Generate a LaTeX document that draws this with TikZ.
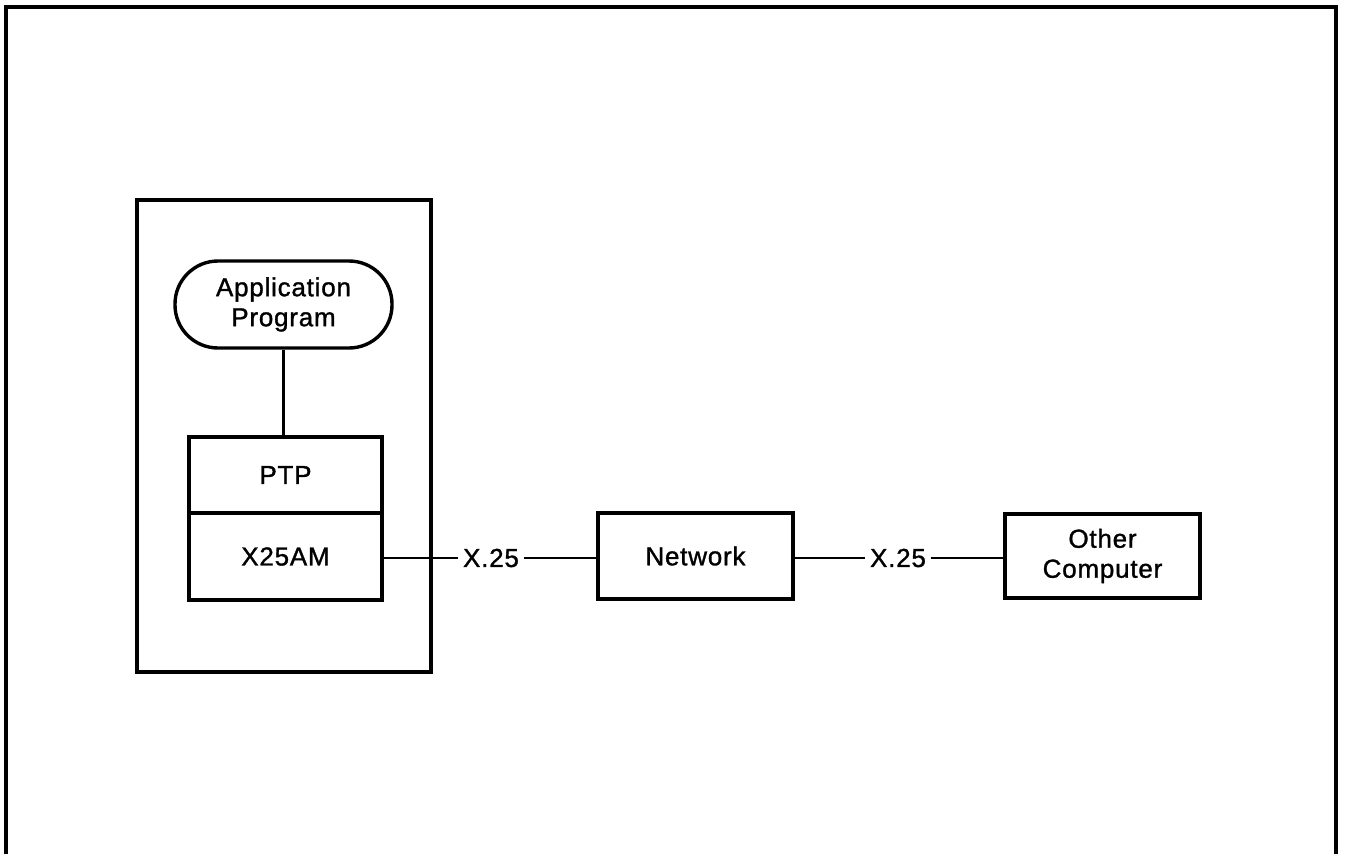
\documentclass[tikz,border=0pt]{standalone}
\usepackage{fontspec}
\setmainfont{Liberation Sans}[LetterSpace=3,FakeBold=1.2]
\begin{document}
\begin{tikzpicture}[x=1pt,y=-1pt,
  box/.style={draw,line width=3.4pt,minimum width=#1,align=center,inner sep=0pt},
  lbl/.style={inner xsep=5pt,inner ysep=0pt,font=\fontsize{26}{30}\selectfont},
  conn/.style={line width=2.4pt},
  every node/.style={font=\fontsize{26}{30}\selectfont}]
\useasboundingbox (0,0) rectangle (1346,854);
% outer frame (open at bottom)
\draw[line width=4.4pt] (6,854) -- (6,7) -- (1336,7) -- (1336,854);
% tall host box
\node[draw,line width=3.6pt,minimum width=294pt,minimum height=472pt,inner sep=0pt] (host) at (284,436) {};
% application program
\node[draw,line width=3.4pt,minimum width=217pt,minimum height=87pt,rounded corners=43pt,align=center,inner sep=0pt] (app) at (283.5,304.5) {Application\\Program};
% PTP / X25AM
\node[box=193pt,minimum height=76pt] (ptp) at (285.5,475) {PTP};
\node[box=193pt,minimum height=87pt] (x25am) at (285.5,556.5) {X25AM};
% network and other computer
\node[box=195pt,minimum height=86pt] (net) at (695.5,556) {Network};
\node[box=195pt,minimum height=84pt] (other) at (1102.5,556) {Other\\Computer};
% labels
\node[lbl] (l1) at (491,558) {X.25};
\node[lbl] (l2) at (898,558) {X.25};
% connectors
\draw[conn] (app.south) -- (ptp.north -| app.south);
\draw[conn] (x25am.east |- l1) -- (l1.west);
\draw[conn] (l1.east) -- (net.west |- l1);
\draw[conn] (net.east |- l2) -- (l2.west);
\draw[conn] (l2.east) -- (other.west |- l2);
\end{tikzpicture}
\end{document}
